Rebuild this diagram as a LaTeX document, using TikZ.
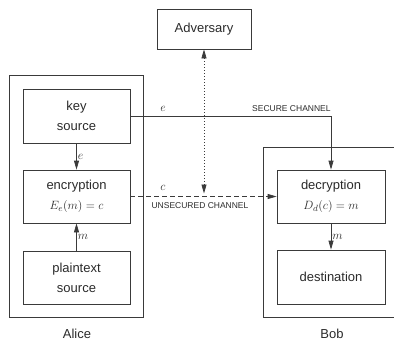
\documentclass[tikz,border=0pt]{standalone}
\usepackage{fontspec}
\setmainfont{Liberation Sans}
\usetikzlibrary{arrows.meta}
\definecolor{ink}{HTML}{3A3A3A}
\definecolor{txt}{HTML}{2A2A2A}
\begin{document}
\begin{tikzpicture}[x=1pt,y=-1pt,line width=0.75pt,
  block/.style={draw=ink,inner sep=0pt,align=center,text=txt,
    minimum width=107pt,minimum height=53pt,
    font=\fontsize{13}{20}\selectfont},
  party/.style={draw=ink,inner sep=0pt},
  flow/.style={draw=ink,-{Triangle[length=9pt,width=5pt]}},
  sym/.style={text=txt,inner sep=1pt,font=\fontsize{13}{15}\selectfont},
  chan/.style={text=txt,inner sep=0pt,font=\fontsize{8.5}{10}\selectfont},
  who/.style={text=txt,inner sep=0pt,font=\fontsize{13}{15}\selectfont}]
\useasboundingbox (0,0) rectangle (394,341);
\clip (0,0) rectangle (394,341);

% parties
\node[party,minimum width=134pt,minimum height=242pt] (alice) at (76,196) {};
\node[party,minimum width=150pt,minimum height=170pt] (bob) at (338,232) {};
\node[who] (alicename) at (77,334) {Alice};
\node[who] (bobname) at (332,334) {Bob};

% blocks
\node[block,minimum height=54pt] (key) at (76.5,116) {key\\source};
\node[block] (enc) at (76.5,196.5) {encryption\\$E_e(m)=c$};
\node[block] (plain) at (76.5,277.5) {plaintext\\source};
\node[block,minimum width=94pt,minimum height=40pt] (adv) at (204,29) {Adversary};
\node[block,minimum width=108pt] (dec) at (331,196.5) {decryption\\$D_d(c)=m$};
\node[block,minimum width=108pt,minimum height=54pt] (dest) at (331,277) {destination};

% connectors inside Alice and Bob
\draw[flow] (key.south) -- node[sym,right] {$e$} (enc.north);
\draw[flow] (plain.north) -- node[sym,right] {$m$} (enc.south);
\draw[flow] (dec.south) -- node[sym,right] {$m$} (dest.north);

% secure channel
\draw[flow] (key.east) -| (dec.north);
\node[sym] (elabel) at (163,109) {$e$};
\node[chan,anchor=east] (securelabel) at (331,109) {SECURE CHANNEL};

% unsecured channel
\draw[flow,dash pattern=on 5pt off 3pt] (enc.east) -- (dec.west);
\node[sym] (clabel) at (163,188) {$c$};
\node[chan] (unsecurelabel) at (200,206) {UNSECURED CHANNEL};

% adversary tap
\coordinate (tap) at (adv.south |- enc.east);
\draw[draw=ink,dash pattern=on 0.8pt off 2.2pt,
  {Triangle[length=9pt,width=5pt]}-{Triangle[length=9pt,width=5pt]},
  shorten >=3pt] (adv.south) -- (tap);
\end{tikzpicture}
\end{document}
